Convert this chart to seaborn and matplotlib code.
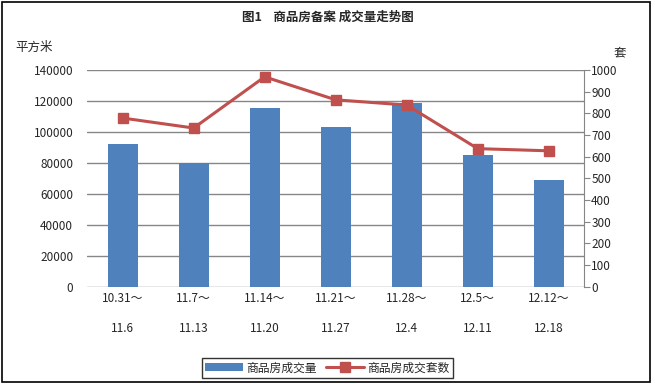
import numpy as np
import pandas as pd
import matplotlib
matplotlib.use('Agg')
import matplotlib.pyplot as plt
import seaborn as sns
from matplotlib.patches import Rectangle

weeks = ['10.31～\n\n11.6', '11.7～\n\n11.13', '11.14～\n\n11.20', '11.21～\n\n11.27',
         '11.28～\n\n12.4', '12.5～\n\n12.11', '12.12～\n\n12.18']
area = [92000, 80000, 115500, 103000, 118500, 85000, 69000]
units = [778, 732, 968, 862, 838, 637, 627]

sns.set_style('white')
plt.rcParams['font.family'] = ['Noto Sans CJK SC', 'DejaVu Sans']

df = pd.DataFrame({'week': weeks, 'area': area, 'units': units})

fig = plt.figure(figsize=(6.55, 3.84), dpi=100)
ax = fig.add_axes([0.133, 0.253, 0.759, 0.565])

sns.barplot(data=df, x='week', y='area', color='#4F81BD', width=0.42,
            saturation=1, ax=ax, label='商品房成交量', zorder=3,
            edgecolor='none', linewidth=0)
if ax.get_legend() is not None:
    ax.get_legend().remove()
ax.set_ylim(0, 140000)
ax.set_yticks(np.arange(0, 140001, 20000))
ax.yaxis.grid(True, color='#868686', linewidth=1)
ax.set_axisbelow(True)
for s in ax.spines.values():
    s.set_visible(False)
ax.tick_params(axis='y', length=0, pad=10, labelsize=8.5)
ax.tick_params(axis='x', length=0, pad=4, labelsize=8.5)
ax.set_xlabel('')
ax.set_ylabel('')

ax2 = ax.twinx()
ax2.plot(range(len(weeks)), units, color='#C0504D', linewidth=2.2, marker='s',
         markersize=7, label='商品房成交套数', zorder=4)
ax2.set_ylim(0, 1000)
ax2.set_yticks(np.arange(0, 1001, 100))
for k in ['left', 'top', 'bottom']:
    ax2.spines[k].set_visible(False)
ax2.spines['right'].set_color('#868686')
ax2.tick_params(axis='y', direction='out', length=4, color='#868686', pad=1, labelsize=8.5, right=True)
ax.set_xlim(-0.5, len(weeks) - 0.5)

fig.text(0.5, 0.955, '图1    商品房备案 成交量走势图', ha='center', va='center',
         fontsize=9, fontweight='bold')
fig.text(0.023, 0.877, '平方米', ha='left', va='center', fontsize=9)
fig.text(0.937, 0.862, '套', ha='left', va='center', fontsize=9)

h1, l1 = ax.get_legend_handles_labels()
h2, l2 = ax2.get_legend_handles_labels()
leg = fig.legend(h1 + h2, l1 + l2, loc='center', bbox_to_anchor=(0.5, 0.042), ncol=2,
                 frameon=True, fancybox=False, edgecolor='black', fontsize=8.5,
                 handlelength=3.2, handletextpad=0.3, columnspacing=0.8,
                 borderpad=0.3)
leg.get_frame().set_linewidth(1)

fig.patches.append(Rectangle((0.003, 0.005), 0.99, 0.99, transform=fig.transFigure,
                             fill=False, edgecolor='black', linewidth=1.2))

fig.savefig('out.png', dpi=100)
